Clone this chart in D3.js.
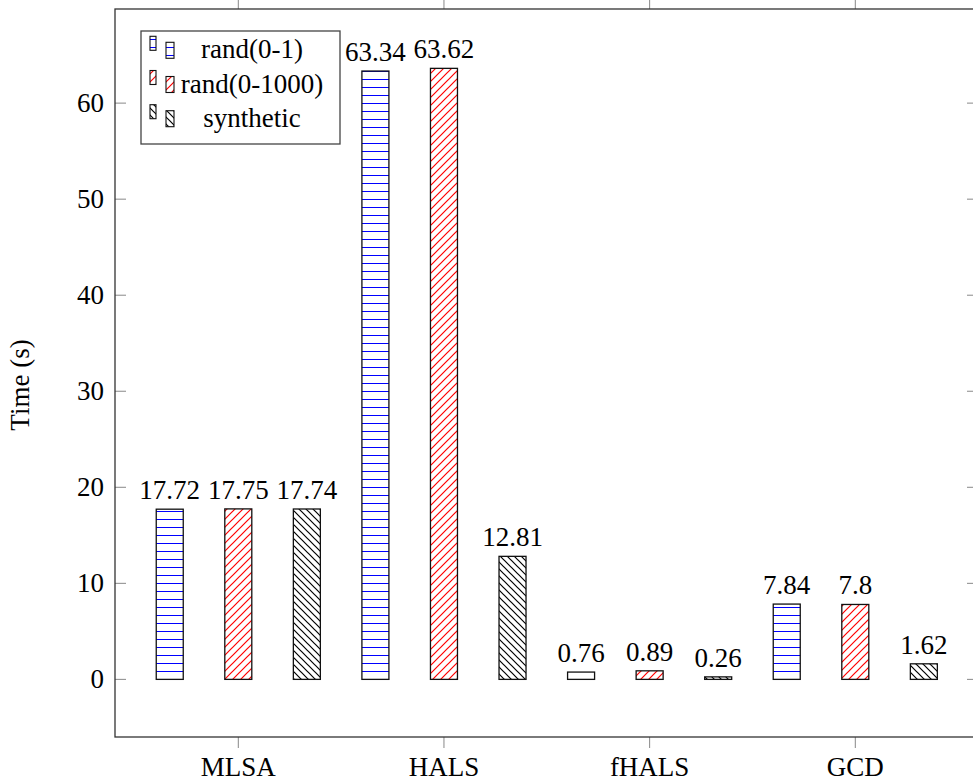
<!DOCTYPE html>
<html>
<head>
<meta charset="utf-8">
<script src="https://d3js.org/d3.v7.min.js"></script>
<style>
  html, body { margin: 0; padding: 0; background: #fff; }
</style>
</head>
<body>
<div id="chart"></div>
<script>
var categories = ["MLSA", "HALS", "fHALS", "GCD"];
var seriesNames = ["rand(0-1)", "rand(0-1000)", "synthetic"];
var rand01    = [17.72, 63.34, 0.76, 7.84];
var rand1000  = [17.75, 63.62, 0.89, 7.8];
var synthetic = [17.74, 12.81, 0.26, 1.62];
var yTicks    = [0, 10, 20, 30, 40, 50, 60];

var gW = 973, gH = 780;
var gBox = { left: 115, right: 978, top: 9, bottom: 737 };
var gFont = "'Liberation Serif', 'Times New Roman', Times, serif";

var svg = d3.select("#chart").append("svg")
    .attr("width", gW)
    .attr("height", gH)
    .attr("font-family", gFont)
    .attr("font-size", 27);

var defs = svg.append("defs");

// hatch patterns, anchored to the page like pgf does
function hatch(id, size, color, path, sw, crisp) {
  var p = defs.append("pattern")
      .attr("id", id)
      .attr("patternUnits", "userSpaceOnUse")
      .attr("width", size)
      .attr("height", size);
  p.append("rect").attr("width", size).attr("height", size).attr("fill", "#fff");
  p.append("path").attr("d", path).attr("stroke", color).attr("stroke-width", sw)
      .attr("fill", "none")
      .attr("shape-rendering", crisp ? "crispEdges" : null);
}
hatch("hBlue", 8, "#0000ff", "M0,7.5H8", 1.2, true);
hatch("hRed", 8, "#ff0000", "M-2,2L2,-2M0,8L8,0M6,10L10,6", 1.2, false);
hatch("hBlack", 7, "#000", "M-2,5L2,9M0,0L7,7M5,-2L9,2", 1.2, false);

var series = [
  { name: seriesNames[0], values: rand01,    fill: "url(#hBlue)" },
  { name: seriesNames[1], values: rand1000,  fill: "url(#hRed)" },
  { name: seriesNames[2], values: synthetic, fill: "url(#hBlack)" }
];

var x = d3.scalePoint().domain(categories).range([238.3, 855.3]);
var y = d3.scaleLinear().domain([-6, 69.8]).range([gBox.bottom, gBox.top]);
var step = x.step();
var offset = d3.scaleLinear().domain([0, 2]).range([-step / 3, step / 3]);
var barW = 27;

// y ticks (inside, both sides)
var gTicks = svg.append("g");
gTicks.selectAll("line.yl").data(yTicks).enter().append("line")
    .attr("x1", gBox.left).attr("x2", gBox.left + 11)
    .attr("y1", function (d) { return y(d); }).attr("y2", function (d) { return y(d); })
    .attr("stroke", "#888").attr("stroke-width", 1);
gTicks.selectAll("line.yr").data(yTicks).enter().append("line")
    .attr("x1", gBox.right - 11).attr("x2", gBox.right)
    .attr("y1", function (d) { return y(d); }).attr("y2", function (d) { return y(d); })
    .attr("stroke", "#888").attr("stroke-width", 1);
gTicks.selectAll("text").data(yTicks).enter().append("text")
    .attr("x", 104)
    .attr("y", function (d) { return y(d) + 9; })
    .attr("text-anchor", "end")
    .text(function (d) { return d; });

// x ticks (outside, top and bottom)
gTicks.selectAll("line.xb").data(categories).enter().append("line")
    .attr("x1", function (d) { return x(d); }).attr("x2", function (d) { return x(d); })
    .attr("y1", gBox.bottom).attr("y2", gBox.bottom + 11)
    .attr("stroke", "#888").attr("stroke-width", 1);
gTicks.selectAll("line.xt").data(categories).enter().append("line")
    .attr("x1", function (d) { return x(d); }).attr("x2", function (d) { return x(d); })
    .attr("y1", gBox.top - 11).attr("y2", gBox.top)
    .attr("stroke", "#888").attr("stroke-width", 1);
gTicks.selectAll("text.xl").data(categories).enter().append("text")
    .attr("x", function (d) { return x(d); })
    .attr("y", 776)
    .attr("text-anchor", "middle")
    .text(function (d) { return d; });

// bars
series.forEach(function (s, si) {
  var g = svg.append("g");
  g.selectAll("rect").data(s.values).enter().append("rect")
      .attr("x", function (d, i) { return x(categories[i]) + offset(si) - barW / 2; })
      .attr("y", function (d) { return y(d); })
      .attr("width", barW)
      .attr("height", function (d) { return y(0) - y(d); })
      .attr("fill", s.fill)
      .attr("stroke", "#111")
      .attr("stroke-width", 1.3);
  g.selectAll("text").data(s.values).enter().append("text")
      .attr("x", function (d, i) { return x(categories[i]) + offset(si); })
      .attr("y", function (d) { return y(d) - 10; })
      .attr("text-anchor", "middle")
      .text(function (d) { return String(d); });
});

// axis frame (right side falls outside the canvas)
svg.append("rect")
    .attr("x", gBox.left).attr("y", gBox.top)
    .attr("width", gBox.right - gBox.left).attr("height", gBox.bottom - gBox.top)
    .attr("fill", "none").attr("stroke", "#333").attr("stroke-width", 1.3);

// y label
svg.append("text")
    .attr("transform", "translate(29,385) rotate(-90)")
    .attr("text-anchor", "middle")
    .text("Time (s)");

// legend
var lg = svg.append("g");
lg.append("rect")
    .attr("x", 141).attr("y", 31).attr("width", 199).attr("height", 113)
    .attr("fill", "#fff").attr("stroke", "#444").attr("stroke-width", 1.3);
var lgRow = d3.scaleLinear().domain([0, 2]).range([36.3, 104.7]);
series.forEach(function (s, si) {
  var top = lgRow(si);
  lg.append("rect").attr("x", 150).attr("y", top).attr("width", 6).attr("height", 14)
      .attr("fill", s.fill).attr("stroke", "#111").attr("stroke-width", 1.1);
  lg.append("rect").attr("x", 166).attr("y", top + 6).attr("width", 8).attr("height", 16)
      .attr("fill", s.fill).attr("stroke", "#111").attr("stroke-width", 1.1);
  lg.append("text")
      .attr("x", 252).attr("y", top + 22)
      .attr("text-anchor", "middle")
      .text(s.name);
});
</script>
</body>
</html>
